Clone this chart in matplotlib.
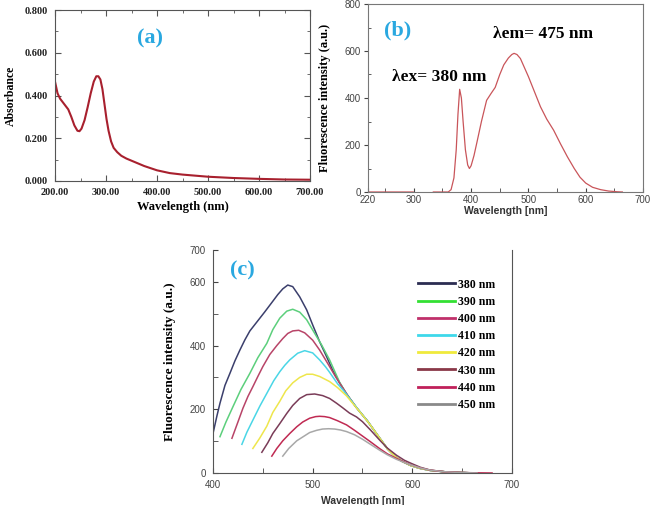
import matplotlib
matplotlib.use("Agg")
import matplotlib.pyplot as plt
import numpy as np
from matplotlib.ticker import MultipleLocator, FixedLocator

# ---------------- Data ----------------
# (a) UV-Vis absorbance
abs_wl = [200, 205, 210, 218, 226, 232, 238, 244, 248, 252, 258, 264, 270, 276, 281, 285, 289, 293, 297, 301,
          305, 310, 315, 322, 330, 340, 355, 375, 400, 425, 450, 500, 550, 600, 650, 700]
abs_val = [0.465, 0.41, 0.385, 0.36, 0.335, 0.30, 0.26, 0.235, 0.233, 0.245, 0.285, 0.345, 0.41, 0.465, 0.49, 0.49,
           0.475, 0.43, 0.36, 0.29, 0.235, 0.185, 0.155, 0.135, 0.118, 0.105, 0.09, 0.07, 0.05, 0.037, 0.03, 0.02,
           0.014, 0.01, 0.007, 0.006]

# (b) fluorescence spectrum (excitation + emission)
fl_wl = [220, 299, np.nan, 334, 360, 365, 370, 374, 377, 380, 383, 386, 390, 394, 397, 400, 405, 410, 418, 427,
         435, 442, 450, 457, 465, 471, 475, 480, 486, 492, 500, 510, 521, 532, 544, 556, 568, 580, 590, 600, 612,
         626, 640, 655, 664]
fl_int = [0, 0, np.nan, 0, 0, 10, 60, 180, 330, 437, 400, 300, 180, 115, 100, 112, 155, 210, 300, 390,
          420, 445, 500, 541, 570, 585, 590, 585, 568, 535, 491, 430, 363, 310, 263, 205, 150, 100, 63, 38, 20,
          10, 4, 1, 0]

# (c) emission spectra at several excitation wavelengths
exc_labels = ["380 nm", "390 nm", "400 nm", "410 nm", "420 nm", "430 nm", "440 nm", "450 nm"]

em380_x = [400, 404, 407, 412, 417, 422, 427, 432, 437, 445, 452, 459, 465, 470, 475, 480, 487, 494, 500, 507, 514,
           520, 527, 534, 544, 555, 566, 575, 583, 590, 598, 607, 618, 632, 648, 665]
em380_y = [124, 180, 219, 275, 313, 352, 386, 418, 446, 478, 506, 535, 560, 578, 590, 585, 553, 512, 465, 412, 365,
           323, 283, 248, 205, 163, 115, 76, 51, 36, 24, 15, 8, 4, 1.5, 0]

em390_x = [407, 413, 420, 428, 437, 445, 454, 460, 467, 474, 480, 487, 494, 500, 509, 517, 527, 534, 544, 555,
           566, 575, 583, 590, 598, 607, 618, 632, 648, 665]
em390_y = [114, 160, 208, 262, 313, 362, 407, 450, 486, 508, 514, 505, 481, 449, 402, 355, 285, 248, 205, 163,
           115, 76, 51, 36, 24, 15, 8, 4, 1.5, 0]

em400_x = [419, 425, 430, 435, 440, 445, 450, 457, 464, 470, 475, 480, 486, 492, 500, 507, 517, 523, 530, 537,
           544, 555, 566, 575, 583, 590, 598, 607, 618, 632, 648, 665]
em400_y = [109, 160, 203, 240, 271, 303, 334, 372, 400, 422, 438, 446, 448, 440, 417, 386, 334, 302, 268, 235,
           205, 163, 115, 76, 51, 36, 24, 15, 8, 4, 1.5, 0]

em410_x = [429, 434, 440, 447, 454, 461, 467, 472, 477, 485, 492, 500, 507, 513, 517, 521, 525, 532, 539, 546,
           555, 566, 575, 583, 590, 598, 607, 618, 632, 648, 665]
em410_y = [90, 128, 166, 210, 250, 290, 318, 338, 355, 376, 384, 377, 355, 333, 316, 298, 280, 255, 226, 198,
           163, 115, 76, 51, 36, 24, 15, 8, 4, 1.5, 0]

em420_x = [440, 447, 454, 460, 467, 473, 480, 487, 494, 500, 507, 517, 525, 534, 542, 550, 558, 566, 575, 583,
           590, 598, 607, 618, 632, 648, 665]
em420_y = [77, 110, 147, 190, 225, 258, 283, 300, 310, 310, 303, 287, 268, 242, 212, 182, 150, 115, 76, 51,
           36, 24, 15, 8, 4, 1.5, 0]

em430_x = [449, 455, 460, 467, 474, 480, 487, 494, 502, 510, 517, 524, 530, 537, 544, 550, 558, 567, 575, 584,
           592, 599, 608, 618, 632, 648, 665]
em430_y = [65, 95, 124, 155, 187, 212, 234, 246, 248, 243, 234, 219, 205, 188, 176, 161, 135, 104, 78, 56,
           40, 30, 18, 9, 4, 1.5, 0]

em440_x = [459, 464, 470, 477, 484, 490, 497, 503, 507, 512, 517, 525, 534, 542, 550, 558, 567, 575, 584, 592,
           599, 608, 618, 632, 648, 665, 680]
em440_y = [53, 77, 101, 124, 145, 160, 172, 177, 178, 177, 174, 164, 151, 134, 116, 98, 77, 60, 46, 34,
           25, 16, 9, 4, 1.5, 0.5, 0]

em450_x = [470, 476, 484, 490, 497, 504, 510, 516, 522, 528, 534, 542, 550, 558, 567, 575, 584, 592, 599, 608,
           618, 632, 648, 665]
em450_y = [53, 77, 101, 113, 127, 134, 138, 139, 138, 135, 130, 120, 106, 90, 72, 57, 43, 33, 25, 16,
           9, 4, 1.5, 0]

em_x = [em380_x, em390_x, em400_x, em410_x, em420_x, em430_x, em440_x, em450_x]
em_y = [em380_y, em390_y, em400_y, em410_y, em420_y, em430_y, em440_y, em450_y]
em_colors = ["#3b3f6c", "#5ccf7c", "#b84468", "#4ad6e6", "#eee64c", "#7a3c58", "#c02a52", "#a8a8a8"]
leg_colors = ["#2b2d52", "#33e033", "#c0306a", "#3ed8ea", "#f0ea3c", "#8a3848", "#c0205a", "#8a8a8a"]

SERIF = "Liberation Serif"
SANS = "Liberation Sans"
BLUE = "#2aa8e0"

fig = plt.figure(figsize=(6.5, 5.05), dpi=100)

# ---------------- Panel (a) ----------------
axa = fig.add_axes([55/650, 1-181/505, 255/650, 171/505])
axa.plot(abs_wl, abs_val, color="#a8202e", lw=1.5)
axa.set_xlim(200, 700)
axa.set_ylim(0, 0.8)
axa.set_xticks([200, 300, 400, 500, 600, 700])
axa.set_xticklabels(["200.00", "300.00", "400.00", "500.00", "600.00", "700.00"])
axa.set_yticks([0, 0.2, 0.4, 0.6, 0.8])
axa.set_yticklabels(["0.000", "0.200", "0.400", "0.600", "0.800"])
axa.xaxis.set_minor_locator(MultipleLocator(50))
axa.yaxis.set_minor_locator(MultipleLocator(0.1))
axa.tick_params(which="both", direction="in", top=True, right=True, color="#555")
axa.tick_params(which="major", length=4, pad=5)
axa.tick_params(which="minor", length=2.5)
for lab in axa.get_xticklabels() + axa.get_yticklabels():
    lab.set_fontfamily(SERIF)
    lab.set_fontweight("bold")
    lab.set_fontsize(7.5)
    lab.set_color("#222")
for s in axa.spines.values():
    s.set_color("#555")
    s.set_linewidth(0.8)
axa.set_xlabel("Wavelength (nm)", fontfamily=SERIF, fontweight="bold", fontsize=9, labelpad=3)
axa.set_ylabel("Absorbance", fontfamily=SERIF, fontweight="bold", fontsize=8.5, labelpad=6)
axa.text(386, 0.669, "(a)", color=BLUE, fontfamily=SERIF, fontweight="bold", fontsize=16,
         ha="center", va="center")

# ---------------- Panel (b) ----------------
axb = fig.add_axes([368/650, 1-192/505, 275/650, 188/505])
axb.plot(fl_wl, fl_int, color="#c9555a", lw=0.9)
axb.set_xlim(220, 700)
axb.set_ylim(0, 800)
axb.set_xticks([220, 300, 400, 500, 600, 700])
axb.xaxis.set_minor_locator(FixedLocator([250, 350, 450, 550, 650]))
axb.set_yticks([0, 200, 400, 600, 800])
axb.yaxis.set_minor_locator(FixedLocator([100, 300, 500, 700]))
axb.tick_params(axis="x", which="both", direction="in", length=3, color="#444")
axb.tick_params(axis="y", which="major", direction="out", length=3, color="#444")
axb.tick_params(axis="y", which="minor", direction="in", length=2.5, color="#444")
axb.tick_params(which="major", labelsize=7, labelcolor="#444", pad=2)
for lab in axb.get_xticklabels() + axb.get_yticklabels():
    lab.set_fontfamily(SANS)
for s in axb.spines.values():
    s.set_color("#777")
    s.set_linewidth(0.8)
axb.set_xlabel("Wavelength [nm]", fontfamily=SANS, fontweight="bold", fontsize=7.5, color="#333", labelpad=1)
axb.set_ylabel("Fluorescence intensity (a.u.)", fontfamily=SERIF, fontweight="bold", fontsize=9, labelpad=10)
axb.text(271, 689, "(b)", color=BLUE, fontfamily=SERIF, fontweight="bold", fontsize=16,
         ha="center", va="center")
axb.text(438, 672, "λem= 475 nm", fontfamily=SERIF, fontweight="bold", fontsize=12.5,
         ha="left", va="center")
axb.text(262, 489, "λex= 380 nm", fontfamily=SERIF, fontweight="bold", fontsize=12.5,
         ha="left", va="center")

# ---------------- Panel (c) ----------------
axc = fig.add_axes([213/650, 1-473/505, 299/650, 223/505])
for xs, ys, c, lab in zip(em_x, em_y, em_colors, exc_labels):
    axc.plot(xs, ys, color=c, lw=1.1, label=lab)
axc.set_xlim(400, 700)
axc.set_ylim(0, 700)
axc.set_xticks([400, 500, 600, 700])
axc.xaxis.set_minor_locator(FixedLocator([450, 550, 650]))
axc.set_yticks([0, 200, 400, 600, 700])
axc.yaxis.set_minor_locator(FixedLocator([100, 300, 500]))
axc.tick_params(which="both", direction="in", length=3.5, color="#444")
axc.tick_params(which="major", labelsize=7, labelcolor="#444", pad=5)
for lab in axc.get_xticklabels() + axc.get_yticklabels():
    lab.set_fontfamily(SANS)
axc.spines["top"].set_visible(False)
for k in ["left", "bottom", "right"]:
    axc.spines[k].set_color("#555")
    axc.spines[k].set_linewidth(0.8)
axc.set_xlabel("Wavelength [nm]", fontfamily=SANS, fontweight="bold", fontsize=7.5, color="#333", labelpad=4)
axc.set_ylabel("Fluorescence intensity (a.u.)", fontfamily=SERIF, fontweight="bold", fontsize=9.5, labelpad=10)
axc.text(429, 637, "(c)", color=BLUE, fontfamily=SERIF, fontweight="bold", fontsize=16,
         ha="center", va="center")

leg = axc.legend(loc="upper left", bbox_to_anchor=(0.686, 0.872), frameon=False,
                 prop={"family": SERIF, "weight": "bold", "size": 8.5},
                 handlelength=3.1, handletextpad=0.25, labelspacing=0.44,
                 borderpad=0, borderaxespad=0)
for h, c in zip(leg.legend_handles, leg_colors):
    h.set_color(c)
    h.set_linewidth(2.0)

fig.savefig("out.png", dpi=100)
